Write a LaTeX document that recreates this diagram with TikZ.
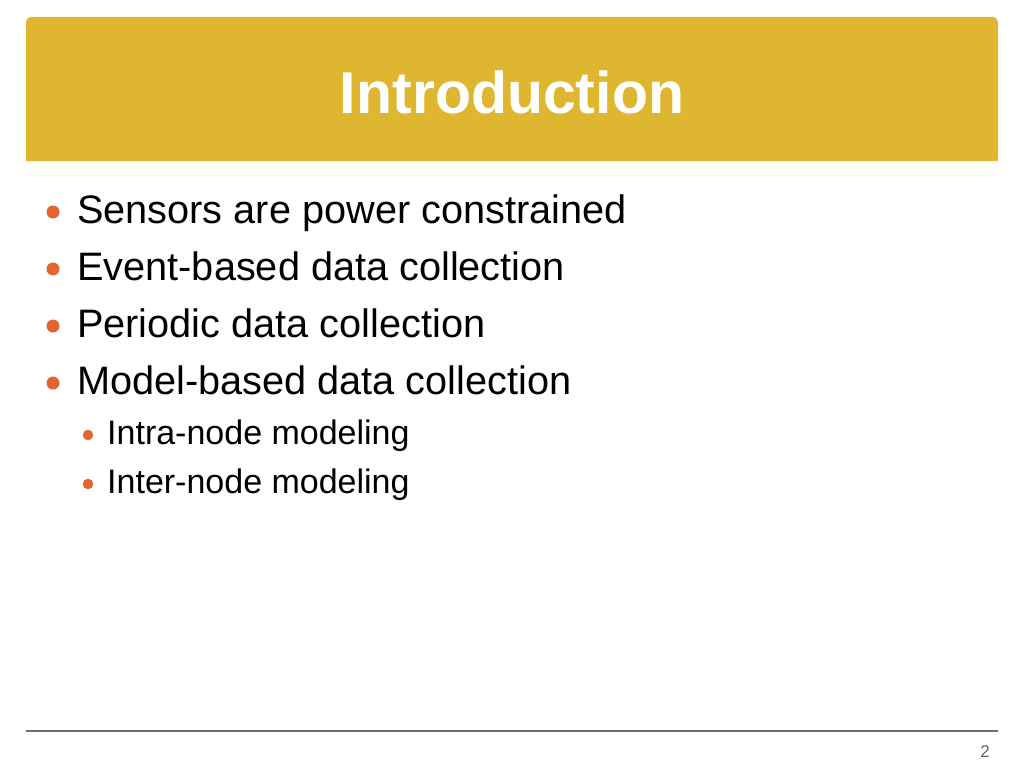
\documentclass[tikz,border=0pt]{standalone}
\usepackage{fontspec}
\setmainfont{Liberation Sans}
\definecolor{banner}{RGB}{222,182,48}
\definecolor{bul}{RGB}{226,100,48}
\definecolor{rulec}{RGB}{110,110,110}
\definecolor{numc}{RGB}{100,100,100}
\begin{document}
\begin{tikzpicture}[x=1pt,y=-1pt,
  main/.style={anchor=base west,inner sep=0pt,font=\fontsize{39.7}{48}\selectfont,text=black},
  sub/.style={anchor=base west,inner sep=0pt,font=\fontsize{34}{40}\selectfont,text=black},
  mainbul/.style={circle,fill=bul,inner sep=0pt,minimum size=13pt},
  subbul/.style={circle,fill=bul,inner sep=0pt,minimum size=10.5pt}]
\useasboundingbox (0,0) rectangle (1024,768);
\fill[white] (0,0) rectangle (1024,768);
\fill[banner,rounded corners=5pt] (26,161) -- (26,17) -- (998,17) -- (998,161) [sharp corners] -- cycle;
\fill[banner] (26,150) rectangle (998,161);
\node[anchor=base,inner sep=0pt,text=white,font=\bfseries\fontsize{59}{66}\selectfont] (title) at (512,113) {Introduction};
\node[mainbul] (b1) at (53,212) {};
\node[main] (t1) at (77,223) {Sensors are power constrained};
\node[mainbul] (b2) at (53,269) {};
\node[main] (t2) at (77,280) {Event-based data collection};
\node[mainbul] (b3) at (53,326) {};
\node[main] (t3) at (77,337) {Periodic data collection};
\node[mainbul] (b4) at (53,383) {};
\node[main] (t4) at (77,394) {Model-based data collection};
\node[subbul] (s1) at (88,435) {};
\node[sub] (u1) at (107,444) {Intra-node modeling};
\node[subbul] (s2) at (88,484) {};
\node[sub] (u2) at (107,493) {Inter-node modeling};
\coordinate (l1) at (26,731);
\coordinate (l2) at (998,731);
\draw[rulec,line width=1.2pt] (l1) -- (l2);
\node[anchor=base east,inner sep=0pt,text=numc,font=\fontsize{17}{20}\selectfont] (pg) at (990,757) {2};
\end{tikzpicture}
\end{document}
